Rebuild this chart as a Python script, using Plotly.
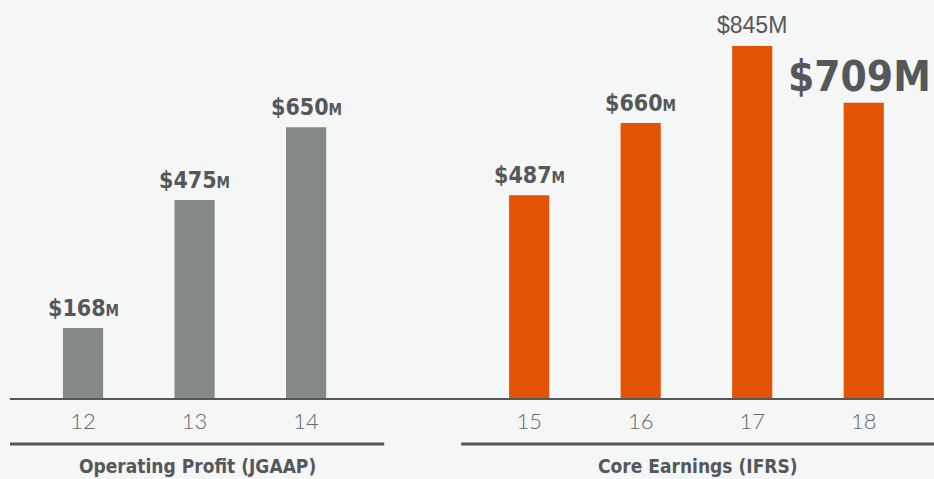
import plotly.graph_objects as go

years = ["12", "13", "14", "15", "16", "17", "18"]
values = [168, 475, 650, 487, 660, 845, 709]
slots = [0, 1, 2, 4, 5, 6, 7]
groups = ["Operating Profit (JGAAP)", "Core Earnings (IFRS)"]
group_of = [0, 0, 0, 1, 1, 1, 1]

GRAY = "#858888"
ORANGE = "#e35205"
TEXT = "#55585a"
BG = "#f5f6f6"
NARROW = "DejaVu Sans Condensed, Liberation Sans Narrow, sans-serif"

colors = [GRAY if g == 0 else ORANGE for g in group_of]

fig = go.Figure()
fig.add_trace(go.Bar(x=slots, y=values, width=0.36, marker=dict(color=colors, line=dict(width=0)),
                     hoverinfo="skip"))

annotations = []
for i, (s, v) in enumerate(zip(slots, values)):
    xshift = 0
    if i == 5:
        txt = "$%dM" % v
        font = dict(family="Liberation Sans, Arial, sans-serif", size=23, color=TEXT)
        yshift = 6
    elif i == 6:
        txt = "<b>$%dM</b>" % v
        font = dict(family=NARROW, size=42, color=TEXT)
        yshift = 0
        xshift = -4
    else:
        txt = "<b>$%d<span style='font-size:15px'>M</span></b>" % v
        font = dict(family=NARROW, size=23, color=TEXT)
        yshift = 5
    annotations.append(dict(x=s, y=v, xref="x", yref="y", text=txt, showarrow=False,
                            yanchor="bottom", xanchor="center", yshift=yshift, xshift=xshift, font=font))

# group titles
group_spans = [(-0.655, 2.70), (3.39, 7.63)]
for g, (a, b) in zip(groups, group_spans):
    annotations.append(dict(x=(a + b) / 2, y=-0.171, xref="x", yref="paper", text="<b>%s</b>" % g,
                            showarrow=False, yanchor="middle", xanchor="center",
                            font=dict(family=NARROW, size=19, color=TEXT)))

shapes = []
for a, b in group_spans:
    shapes.append(dict(type="line", xref="x", yref="paper", x0=a, x1=b, y0=-0.1156, y1=-0.1156,
                       line=dict(color="#555759", width=3)))

fig.update_layout(
    width=934, height=479,
    margin=dict(l=10, r=0, t=0, b=81),
    paper_bgcolor=BG, plot_bgcolor=BG,
    showlegend=False,
    annotations=annotations,
    shapes=shapes,
    xaxis=dict(range=[-0.655, 7.63], tickvals=slots, ticktext=years, showgrid=False, zeroline=False,
               showline=True, linecolor="#555759", linewidth=1.5,
               ticks="outside", ticklen=3, tickcolor="rgba(0,0,0,0)",
               tickfont=dict(family="Lato, Liberation Sans, sans-serif", size=22, color="#666666", weight=300),
               fixedrange=True),
    yaxis=dict(range=[0, 955.4], visible=False, fixedrange=True),
)
fig.write_html("out.html", config={"displayModeBar": False},
               post_script="document.body.style.margin='0';document.body.style.padding='0';document.body.style.background='%s';" % BG)
